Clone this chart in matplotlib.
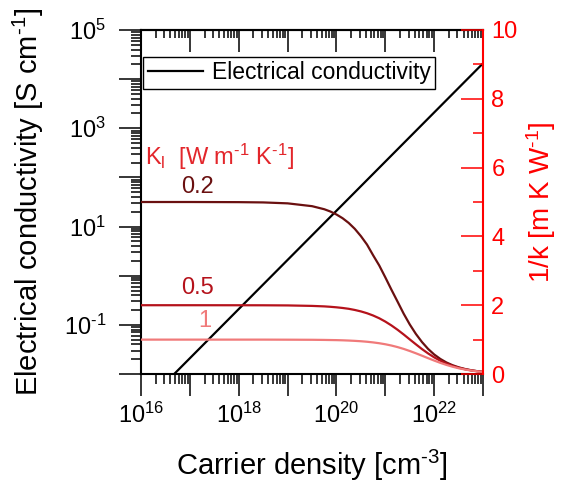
import numpy as np
import matplotlib.pyplot as plt
from matplotlib.ticker import LogLocator, FuncFormatter, MultipleLocator, NullFormatter

plt.rcParams['font.family'] = ['Liberation Sans', 'DejaVu Sans']
plt.rcParams['mathtext.fontset'] = 'custom'
plt.rcParams['mathtext.rm'] = 'Liberation Sans'
plt.rcParams['mathtext.it'] = 'Liberation Sans:italic'
plt.rcParams['mathtext.default'] = 'regular'

# Conductividad eléctrica (recta en log-log)
n_sigma = [1e16, 1e23]
sigma = [2.1e-3, 2.1e4]

# 1/k para cada conductividad térmica de red
log_n_k = [16, 17, 18, 18.5, 19, 19.5, 19.75, 19.875, 20, 20.125, 20.25, 20.375,
           20.5, 20.625, 20.75, 20.875, 21, 21.125, 21.25, 21.375, 21.5, 21.625,
           21.75, 21.875, 22, 22.125, 22.25, 22.375, 22.5, 22.625, 22.75, 22.875, 23]
inv_k_02 = [5.00, 5.00, 4.996, 4.988, 4.961, 4.879, 4.790, 4.724, 4.637, 4.529,
            4.392, 4.220, 4.008, 3.763, 3.452, 3.156, 2.809, 2.451, 2.105, 1.755,
            1.441, 1.166, 0.930, 0.730, 0.568, 0.439, 0.336, 0.257, 0.195, 0.148,
            0.112, 0.084, 0.063]
inv_k_05 = [2.000, 2.000, 1.999, 1.998, 1.994, 1.980, 1.966, 1.954, 1.939, 1.920,
            1.896, 1.862, 1.820, 1.767, 1.701, 1.621, 1.524, 1.412, 1.287, 1.150,
            1.006, 0.864, 0.725, 0.599, 0.485, 0.388, 0.304, 0.238, 0.184, 0.141,
            0.108, 0.082, 0.062]
inv_k_1 = [1.000, 1.000, 1.000, 1.000, 0.998, 0.995, 0.991, 0.988, 0.985, 0.980,
           0.973, 0.964, 0.953, 0.938, 0.919, 0.895, 0.865, 0.828, 0.783, 0.730,
           0.669, 0.603, 0.533, 0.461, 0.391, 0.325, 0.265, 0.213, 0.168, 0.132,
           0.102, 0.079, 0.060]
kl_labels = ['0.2', '0.5', '1']
kl_colors = ['#6a1010', '#b5121b', '#f07a7a']

n_k = np.power(10.0, log_n_k)

fig = plt.figure(figsize=(5.62, 4.95), dpi=100)
ax = fig.add_axes([0.251, 0.2444, 0.6085, 0.695])
ax2 = ax.twinx()

ax.plot(n_sigma, sigma, 'k-', lw=1.6, label='Electrical conductivity', zorder=5)
ax.set_xscale('log')
ax.set_yscale('log')
ax.set_xlim(1e16, 1e23)
ax.set_ylim(1e-2, 1e5)

# Ejes: ticks mayores en cada década, etiquetas cada dos
ax.xaxis.set_major_locator(LogLocator(base=10, numticks=20))
ax.yaxis.set_major_locator(LogLocator(base=10, numticks=20))
ax.xaxis.set_minor_locator(LogLocator(base=10, subs=np.arange(2, 10), numticks=20))
ax.yaxis.set_minor_locator(LogLocator(base=10, subs=np.arange(2, 10), numticks=20))
ax.xaxis.set_minor_formatter(NullFormatter())
ax.yaxis.set_minor_formatter(NullFormatter())

def fmt_x(v, pos):
    e = int(round(np.log10(v)))
    return r'$10^{\text{%d}}$' % e if e % 2 == 0 else ''

def fmt_y(v, pos):
    e = int(round(np.log10(v)))
    return r'$10^{\text{%d}}$' % e if e % 2 != 0 else ''

ax.xaxis.set_major_formatter(FuncFormatter(fmt_x))
ax.yaxis.set_major_formatter(FuncFormatter(fmt_y))

ax.tick_params(axis='both', which='major', direction='out', length=16, width=1.1,
               labelsize=17)
ax.tick_params(axis='both', which='minor', direction='out', length=7, width=1.1)
ax.tick_params(axis='x', pad=5)
ax.tick_params(axis='y', pad=9)

# Ticks superiores hacia dentro
top = ax.secondary_xaxis('top')
top.xaxis.set_major_locator(LogLocator(base=10, numticks=20))
top.xaxis.set_minor_locator(LogLocator(base=10, subs=np.arange(2, 10), numticks=20))
top.xaxis.set_major_formatter(NullFormatter())
top.xaxis.set_minor_formatter(NullFormatter())
top.tick_params(which='major', direction='in', length=16, width=1.1)
top.tick_params(which='minor', direction='in', length=6, width=1.1)
top.spines['top'].set_linewidth(1.5)

for s in ['left', 'bottom', 'top']:
    ax.spines[s].set_linewidth(1.5)
ax.spines['right'].set_visible(False)

ax.set_xlabel(r'Carrier density [cm$^{\text{-3}}$]', fontsize=21, labelpad=14)
ax.set_ylabel(r'Electrical conductivity [S cm$^{\text{-1}}$]', fontsize=21,
              labelpad=13)

# Eje derecho: 1/k
for y, c in zip([inv_k_02, inv_k_05, inv_k_1], kl_colors):
    ax2.plot(n_k, y, color=c, lw=1.6)
ax2.set_ylim(0, 10)
ax2.yaxis.set_major_locator(MultipleLocator(2))
ax2.yaxis.set_minor_locator(MultipleLocator(1))
ax2.tick_params(axis='y', which='major', direction='in', length=16, width=1.1,
                colors='red', labelsize=17, pad=6)
ax2.tick_params(axis='y', which='minor', direction='in', length=7, width=1.1,
                colors='red')
ax2.spines['right'].set_color('red')
ax2.spines['right'].set_linewidth(1.5)
for s in ['left', 'bottom', 'top']:
    ax2.spines[s].set_visible(False)
ax2.set_ylabel(r'1/k [m K W$^{\text{-1}}$]', color='red', fontsize=20, labelpad=5)

ax2.text(1.2e16, 6.3, r'K$_l$  [W m$^{\text{-1}}$ K$^{\text{-1}}$]', color='#e3262b',
         fontsize=17, va='center', ha='left')
ax2.text(10**17.15, 5.45, kl_labels[0], color=kl_colors[0], fontsize=17,
         ha='center', va='center')
ax2.text(10**17.15, 2.5, kl_labels[1], color=kl_colors[1], fontsize=17,
         ha='center', va='center')
ax2.text(10**17.3, 1.55, kl_labels[2], color=kl_colors[2], fontsize=17,
         ha='center', va='center')

leg = ax.legend(loc='upper left', bbox_to_anchor=(0.006, 0.922), borderaxespad=0,
                fontsize=16.5, handlelength=2.4, fancybox=False, framealpha=1,
                edgecolor='black', borderpad=0.2, handletextpad=0.4)
leg.get_frame().set_linewidth(1.0)

fig.savefig('out.png', dpi=100)
